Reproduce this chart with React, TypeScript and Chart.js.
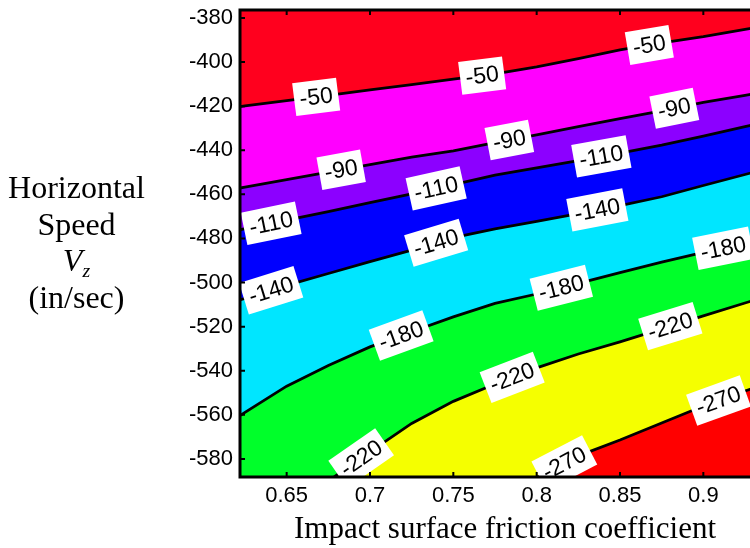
import React, { useEffect, useRef } from "react";
import { Chart, registerables } from "chart.js";

Chart.register(...registerables);

// x positions (friction coefficient) at which the contour lines were read
const xGrid = [0.6, 0.625, 0.65, 0.675, 0.7, 0.725, 0.75, 0.775, 0.8, 0.825, 0.85, 0.875, 0.9, 0.925, 0.95];

// contour levels
const levels = [-50, -90, -110, -140, -180, -220, -270];

// Vz value of each contour line at xGrid
const line50 = [-422.3, -419.9, -417.5, -415.1, -412.6, -410.2, -407.8, -405.4, -402.2, -398.4, -394.5, -391.3, -388.5, -385.2, -382.0];
const line90 = [-460.2, -456.7, -453.3, -449.9, -446.5, -443.1, -440.3, -436.6, -433.0, -429.3, -425.7, -422.1, -418.3, -415.1, -411.7];
const line110 = [-479.5, -475.6, -471.7, -467.8, -463.8, -459.8, -455.6, -451.3, -448.0, -444.7, -441.3, -437.7, -433.6, -429.3, -425.1];
const line140 = [-512.9, -507.2, -501.3, -495.9, -490.5, -485.3, -479.6, -475.7, -472.3, -468.7, -465.1, -461.1, -456.0, -451.0, -446.0];
const line180 = [-571.0, -558.9, -547.0, -537.6, -529.2, -522.3, -515.6, -509.5, -505.2, -500.4, -495.5, -490.7, -486.3, -482.5, -478.9];
const line220 = [-628.0, -615.0, -603.0, -590.0, -576.8, -563.9, -553.9, -546.0, -538.7, -532.4, -526.9, -521.0, -515.1, -509.3, -503.5];
const line270 = [-668.0, -658.0, -648.0, -638.0, -628.0, -618.0, -608.0, -598.0, -588.4, -578.6, -571.4, -563.7, -556.0, -549.2, -542.8];

// x positions of the inline contour labels
const labelX50 = [0.6677, 0.7673, 0.8676];
const labelX90 = [0.6827, 0.7836, 0.8826];
const labelX110 = [0.6407, 0.7397, 0.8388];
const labelX140 = [0.6407, 0.7397, 0.8364];
const labelX180 = [0.7187, 0.8148, 0.912];
const labelX220 = [0.6947, 0.7853, 0.8802];
const labelX270 = [0.8166, 0.9091];

// fill colours: region above each contour line (top to bottom), plus the lowest band
const bandColors = ["#ff001e", "#ff00ff", "#8c00ff", "#0000ff", "#00e6ff", "#00ff2a", "#f5ff00"];
const lowestBandColor = "#ff0000";

const xTitle = "Impact surface friction coefficient";

const contourLines = [line50, line90, line110, line140, line180, line220, line270];
const labelXs = [labelX50, labelX90, labelX110, labelX140, labelX180, labelX220, labelX270];

function interp(xs: number[], ys: number[], x: number): number {
  if (x <= xs[0]) return ys[0];
  for (let i = 1; i < xs.length; i++) {
    if (x <= xs[i]) {
      const t = (x - xs[i - 1]) / (xs[i] - xs[i - 1]);
      return ys[i - 1] + t * (ys[i] - ys[i - 1]);
    }
  }
  return ys[ys.length - 1];
}

const bgPlugin = {
  id: "lowestBand",
  beforeDraw(chart: any) {
    const { ctx, chartArea: a } = chart;
    ctx.save();
    ctx.fillStyle = lowestBandColor;
    ctx.fillRect(a.left, a.top, a.right - a.left, a.bottom - a.top);
    ctx.restore();
  },
};

const labelPlugin = {
  id: "contourLabels",
  afterDatasetsDraw(chart: any) {
    const { ctx, chartArea: a } = chart;
    const sx = chart.scales.x;
    const sy = chart.scales.y;
    ctx.save();
    ctx.beginPath();
    ctx.rect(a.left, a.top, a.right - a.left, a.bottom - a.top);
    ctx.clip();
    ctx.font = '23px "Liberation Sans", Arial, sans-serif';
    ctx.textAlign = "center";
    ctx.textBaseline = "middle";
    levels.forEach((lvl, k) => {
      const ys = contourLines[k];
      labelXs[k].forEach((lx) => {
        const px = sx.getPixelForValue(lx);
        const py = sy.getPixelForValue(interp(xGrid, ys, lx));
        const d = 0.008;
        const p1x = sx.getPixelForValue(lx - d);
        const p1y = sy.getPixelForValue(interp(xGrid, ys, lx - d));
        const p2x = sx.getPixelForValue(lx + d);
        const p2y = sy.getPixelForValue(interp(xGrid, ys, lx + d));
        const ang = Math.atan2(p2y - p1y, p2x - p1x);
        const text = String(lvl);
        const w = ctx.measureText(text).width + 11;
        const h = 33;
        ctx.save();
        ctx.translate(px, py);
        ctx.rotate(ang);
        ctx.fillStyle = "#ffffff";
        ctx.fillRect(-w / 2, -h / 2, w, h);
        ctx.fillStyle = "#000000";
        ctx.fillText(text, 0, 1);
        ctx.restore();
      });
    });
    ctx.restore();
  },
};

const framePlugin = {
  id: "frame",
  afterDraw(chart: any) {
    const { ctx, chartArea: a } = chart;
    const sx = chart.scales.x;
    const sy = chart.scales.y;
    ctx.save();
    ctx.strokeStyle = "#000";
    ctx.lineWidth = 3;
    ctx.beginPath();
    ctx.moveTo(a.right + 20, a.top);
    ctx.lineTo(a.left, a.top);
    ctx.lineTo(a.left, a.bottom);
    ctx.lineTo(a.right + 20, a.bottom);
    ctx.stroke();
    ctx.lineWidth = 2;
    ctx.beginPath();
    sx.ticks.forEach((_t: any, i: number) => {
      const px = sx.getPixelForTick(i);
      ctx.moveTo(px, a.top);
      ctx.lineTo(px, a.top + 5);
      ctx.moveTo(px, a.bottom);
      ctx.lineTo(px, a.bottom - 5);
    });
    sy.ticks.forEach((_t: any, i: number) => {
      const py = sy.getPixelForTick(i);
      ctx.moveTo(a.left, py);
      ctx.lineTo(a.left + 5, py);
    });
    ctx.stroke();
    ctx.restore();
  },
};

export default function App() {
  const ref = useRef<HTMLCanvasElement | null>(null);

  useEffect(() => {
    if (!ref.current) return;
    const datasets = contourLines.map((ys, k) => ({
      label: String(levels[k]),
      data: xGrid.map((x, i) => ({ x, y: ys[i] })),
      borderColor: "#000000",
      borderWidth: 2.8,
      pointRadius: 0,
      tension: 0,
      fill: k === 0 ? "end" : "-1",
      backgroundColor: bandColors[k],
    }));
    const chart = new Chart(ref.current, {
      type: "line",
      data: { datasets },
      options: {
        responsive: false,
        maintainAspectRatio: false,
        animation: false,
        events: [],
        layout: { padding: { left: 0, top: 10, right: 10, bottom: 0 } },
        plugins: {
          legend: { display: false },
          tooltip: { enabled: false },
          filler: { drawTime: "beforeDatasetsDraw" },
        },
        scales: {
          x: {
            type: "linear",
            min: 0.622,
            max: 0.94,
            grid: { display: false, drawTicks: false },
            border: { display: false },
            ticks: {
              stepSize: 0.05,
              includeBounds: false,
              color: "#000",
              padding: 6,
              maxRotation: 0,
              font: { family: '"Liberation Sans", Arial, sans-serif', size: 22 },
              callback: (v: any) => String(Number(Number(v).toFixed(2))),
            },
            title: {
              display: true,
              text: xTitle,
              color: "#000",
              padding: { top: 0, bottom: 0 },
              font: { family: '"Liberation Serif", "Times New Roman", serif', size: 31 },
            },
            afterFit(scale: any) {
              scale.height = 71;
              scale.paddingLeft = 0;
              scale.paddingRight = 0;
            },
          },
          y: {
            type: "linear",
            min: -588.2,
            max: -376.4,
            grid: { display: false, drawTicks: false },
            border: { display: false },
            ticks: {
              stepSize: 20,
              includeBounds: false,
              color: "#000",
              padding: 7,
              font: { family: '"Liberation Sans", Arial, sans-serif', size: 22 },
            },
            afterFit(scale: any) {
              scale.width = 240;
              scale.paddingTop = 0;
              scale.paddingBottom = 0;
            },
          },
        },
      },
      plugins: [bgPlugin, labelPlugin, framePlugin],
    } as any);
    return () => chart.destroy();
  }, []);

  return (
    <div
      style={{
        position: "absolute",
        left: 0,
        top: 0,
        width: 750,
        height: 548,
        overflow: "hidden",
        background: "#fff",
      }}
    >
      <canvas
        ref={ref}
        width={780}
        height={548}
        style={{ position: "absolute", left: 0, top: 0, width: 780, height: 548 }}
      />
      <div
        style={{
          position: "absolute",
          left: 0,
          top: 169,
          width: 153,
          textAlign: "center",
          fontFamily: '"Liberation Serif", "Times New Roman", serif',
          fontSize: 32,
          lineHeight: "36.5px",
          color: "#000",
        }}
      >
        <div>Horizontal</div>
        <div>Speed</div>
        <div>
          <i>V</i>
          <sub style={{ fontSize: "0.62em", fontStyle: "italic", lineHeight: 0, verticalAlign: "-0.3em" }}>z</sub>
        </div>
        <div>(in/sec)</div>
      </div>
    </div>
  );
}
